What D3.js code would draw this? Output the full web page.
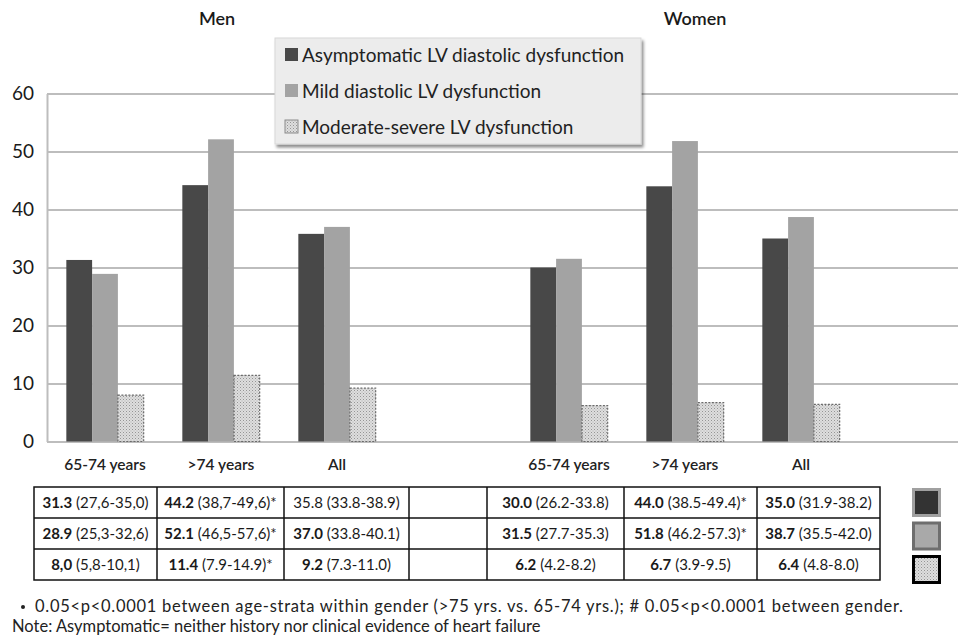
<!DOCTYPE html>
<html>
<head>
<meta charset="utf-8">
<script src="https://cdn.jsdelivr.net/npm/d3@7"></script>
<style>
  html, body { margin: 0; padding: 0; background: #fff; }
  svg { display: block; font-family: Lato, "Open Sans", sans-serif; }
</style>
</head>
<body>
<svg id="chart" width="958" height="642"></svg>
<script>
// ---- data ----
const groups = ["Men", "Women"];
const ageStrata = ["65-74 years", ">74 years", "All"];
const seriesNames = [
  "Asymptomatic LV diastolic dysfunction",
  "Mild diastolic LV dysfunction",
  "Moderate-severe LV dysfunction"
];
// prevalence (%) per series, ordered Men 65-74, Men >74, Men All, Women 65-74, Women >74, Women All
const asymptomatic = [31.3, 44.2, 35.8, 30.0, 44.0, 35.0];
const mild         = [28.9, 52.1, 37.0, 31.5, 51.8, 38.7];
const moderate     = [8.0, 11.4, 9.2, 6.2, 6.7, 6.4];
// value as printed and confidence interval text per cell (same order)
const asymptomaticLabels = ["31.3", "44.2", "35.8", "30.0", "44.0", "35.0"];
const asymptomaticCI = ["(27,6-35,0)", "(38,7-49,6)*", "(33.8-38.9)", "(26.2-33.8)", "(38.5-49.4)*", "(31.9-38.2)"];
const mildLabels = ["28.9", "52.1", "37.0", "31.5", "51.8", "38.7"];
const mildCI = ["(25,3-32,6)", "(46,5-57,6)*", "(33.8-40.1)", "(27.7-35.3)", "(46.2-57.3)*", "(35.5-42.0)"];
const moderateLabels = ["8,0", "11.4", "9.2", "6.2", "6.7", "6.4"];
const moderateCI = ["(5,8-10,1)", "(7.9-14.9)*", "(7.3-11.0)", "(4.2-8.2)", "(3.9-9.5)", "(4.8-8.0)"];
const boldFlags = [
  [true, true, false, true, true, true],
  [true, true, true, true, true, true],
  [true, true, true, true, true, true]
];
const yTicks = [0, 10, 20, 30, 40, 50, 60];
const footnotes = [
  "0.05<p<0.0001 between age-strata within gender (>75 yrs. vs. 65-74 yrs.); # 0.05<p<0.0001 between gender.",
  "Note: Asymptomatic= neither history nor clinical evidence of heart failure"
];

// ---- setup ----
const svg = d3.select("#chart");
const seriesValues = [asymptomatic, mild, moderate];
const seriesLabels = [asymptomaticLabels, mildLabels, moderateLabels];
const seriesCI = [asymptomaticCI, mildCI, moderateCI];

// slots: each gender's three strata followed by an empty slot
const slots = [];
groups.forEach(g => {
  ageStrata.forEach(a => slots.push(g + "|" + a));
  slots.push(g + "|gap");
});
const cells = [];
groups.forEach(g => ageStrata.forEach(a => cells.push(g + "|" + a)));

const plotLeft = 47, step = 116;
const x = d3.scaleBand().domain(slots)
  .range([plotLeft, plotLeft + step * slots.length])
  .paddingInner(1 / 3).paddingOuter(1 / 6);
const xSub = d3.scaleBand().domain(d3.range(seriesNames.length)).range([0, x.bandwidth()]);
const y = d3.scaleLinear().domain([0, 60]).range([441.5, 93.5]);

const defs = svg.append("defs");
const pat = defs.append("pattern").attr("id", "dots")
  .attr("width", 3).attr("height", 3).attr("patternUnits", "userSpaceOnUse");
pat.append("rect").attr("width", 3).attr("height", 3).attr("fill", "#dedede");
pat.append("rect").attr("x", 0).attr("y", 0).attr("width", 1).attr("height", 1).attr("fill", "#959595");
pat.append("rect").attr("x", 1.5).attr("y", 1.5).attr("width", 1).attr("height", 1).attr("fill", "#b0b0b0");

const shadow = defs.append("filter").attr("id", "shadow")
  .attr("x", "-5%").attr("y", "-5%").attr("width", "115%").attr("height", "130%");
shadow.append("feDropShadow").attr("dx", 2).attr("dy", 3).attr("stdDeviation", 1.5)
  .attr("flood-color", "#000").attr("flood-opacity", 0.45);

const fills = ["#484848", "#a3a3a3", "url(#dots)"];

// ---- grid and axis ----
const grid = svg.append("g").attr("class", "grid")
  .attr("transform", `translate(${plotLeft},0)`)
  .call(d3.axisRight(y).tickValues(yTicks).tickSize(958 - plotLeft).tickFormat(""));
grid.select(".domain").remove();
grid.selectAll(".tick line").attr("stroke", "#bdbdbd").attr("stroke-width", 2);

const yAxis = svg.append("g").attr("transform", `translate(${plotLeft},0)`)
  .call(d3.axisLeft(y).tickValues(yTicks).tickSize(0).tickPadding(13));
yAxis.select(".domain").attr("stroke", "#bdbdbd").attr("stroke-width", 2);
yAxis.selectAll("text").attr("font-size", 19).attr("fill", "#1a1a1a")
  .attr("font-family", "Lato, sans-serif");

// ---- bars ----
const barG = svg.append("g");
cells.forEach((c, i) => {
  seriesValues.forEach((vals, s) => {
    const x0 = x(c) + xSub(s);
    const r = barG.append("rect")
      .attr("x", x0).attr("width", xSub.bandwidth())
      .attr("y", y(vals[i])).attr("height", y(0) - y(vals[i]))
      .attr("fill", fills[s]);
    if (s === 2) {
      r.attr("stroke", "#6a6a6a").attr("stroke-width", 1.2).attr("stroke-dasharray", "2,1.5");
    }
  });
});

// category labels
const xAxis = svg.append("g").attr("transform", `translate(0,${y(0)})`)
  .call(d3.axisBottom(x).tickValues(cells).tickSize(0).tickPadding(17)
    .tickFormat(d => d.split("|")[1]));
xAxis.select(".domain").remove();
xAxis.selectAll("text").attr("font-size", 15.5).attr("font-weight", 600).attr("fill", "#222")
  .attr("font-family", "Lato, sans-serif");

// gender titles
const titleX = [217, 695];
groups.forEach((g, i) => {
  svg.append("text").attr("x", titleX[i]).attr("y", 25)
    .attr("text-anchor", "middle").attr("font-size", 18).attr("font-weight", 600)
    .attr("fill", "#1a1a1a").text(g);
});

// ---- legend ----
const lg = svg.append("g").attr("transform", "translate(275,38)");
lg.append("rect").attr("width", 366).attr("height", 106)
  .attr("fill", "#ececec").attr("stroke", "#d8d8d8").attr("filter", "url(#shadow)");
seriesNames.forEach((n, s) => {
  const yy = 17 + s * 36;
  lg.append("rect").attr("x", 10).attr("y", yy - 7).attr("width", 13).attr("height", 13)
    .attr("fill", fills[s])
    .attr("stroke", s === 2 ? "#8a8a8a" : "none").attr("stroke-width", 1);
  lg.append("text").attr("x", 27).attr("y", yy).attr("dy", "0.35em")
    .attr("font-size", 19).attr("fill", "#222").text(n);
});

// ---- table ----
const colW = [123, 127, 125, 78, 137, 133, 123];
const tableLeft = 34, tableTop = 487, rowH = 31;
const colX = [tableLeft];
colW.forEach(w => colX.push(colX[colX.length - 1] + w));
// column index of each data cell (gap column left empty)
const cellCols = [0, 1, 2, 4, 5, 6];
const tbl = svg.append("g");
tbl.append("rect").attr("x", tableLeft).attr("y", tableTop)
  .attr("width", colX[colX.length - 1] - tableLeft).attr("height", rowH * 3)
  .attr("fill", "none").attr("stroke", "#111").attr("stroke-width", 1.5);
colX.slice(1, -1).forEach(cx => {
  tbl.append("line").attr("x1", cx).attr("x2", cx).attr("y1", tableTop).attr("y2", tableTop + rowH * 3)
    .attr("stroke", "#111").attr("stroke-width", 1.5);
});
[1, 2].forEach(r => {
  tbl.append("line").attr("x1", tableLeft).attr("x2", colX[colX.length - 1])
    .attr("y1", tableTop + r * rowH).attr("y2", tableTop + r * rowH)
    .attr("stroke", "#111").attr("stroke-width", 1.5);
});
seriesLabels.forEach((labs, s) => {
  labs.forEach((lab, i) => {
    const ci = cellCols[i];
    const t = tbl.append("text")
      .attr("x", (colX[ci] + colX[ci + 1]) / 2)
      .attr("y", tableTop + s * rowH + rowH / 2).attr("dy", "0.35em")
      .attr("text-anchor", "middle").attr("font-size", 15).attr("fill", "#1a1a1a");
    t.append("tspan").attr("font-weight", boldFlags[s][i] ? 700 : 400).text(lab);
    t.append("tspan").text(" " + seriesCI[s][i]);
  });
});

// table key squares
const keyStroke = ["#a0a0a0", "#6e6e6e", "#000"];
const keyFill = ["#333", "#a9a9a9", "url(#dots)"];
seriesNames.forEach((n, s) => {
  svg.append("rect").attr("x", 913.5).attr("y", 489.5 + s * 33.5)
    .attr("width", 26).attr("height", 26)
    .attr("fill", keyFill[s]).attr("stroke", keyStroke[s]).attr("stroke-width", 3);
});

// ---- footnotes ----
svg.append("circle").attr("cx", 23).attr("cy", 607).attr("r", 2).attr("fill", "#222");
svg.append("text").attr("x", 35).attr("y", 612).attr("font-size", 16.5).attr("fill", "#222")
  .attr("textLength", 868).attr("lengthAdjust", "spacing")
  .text(footnotes[0]);
svg.append("text").attr("x", 12).attr("y", 632).attr("font-size", 16.5).attr("fill", "#222")
  .text(footnotes[1]);
</script>
</body>
</html>
